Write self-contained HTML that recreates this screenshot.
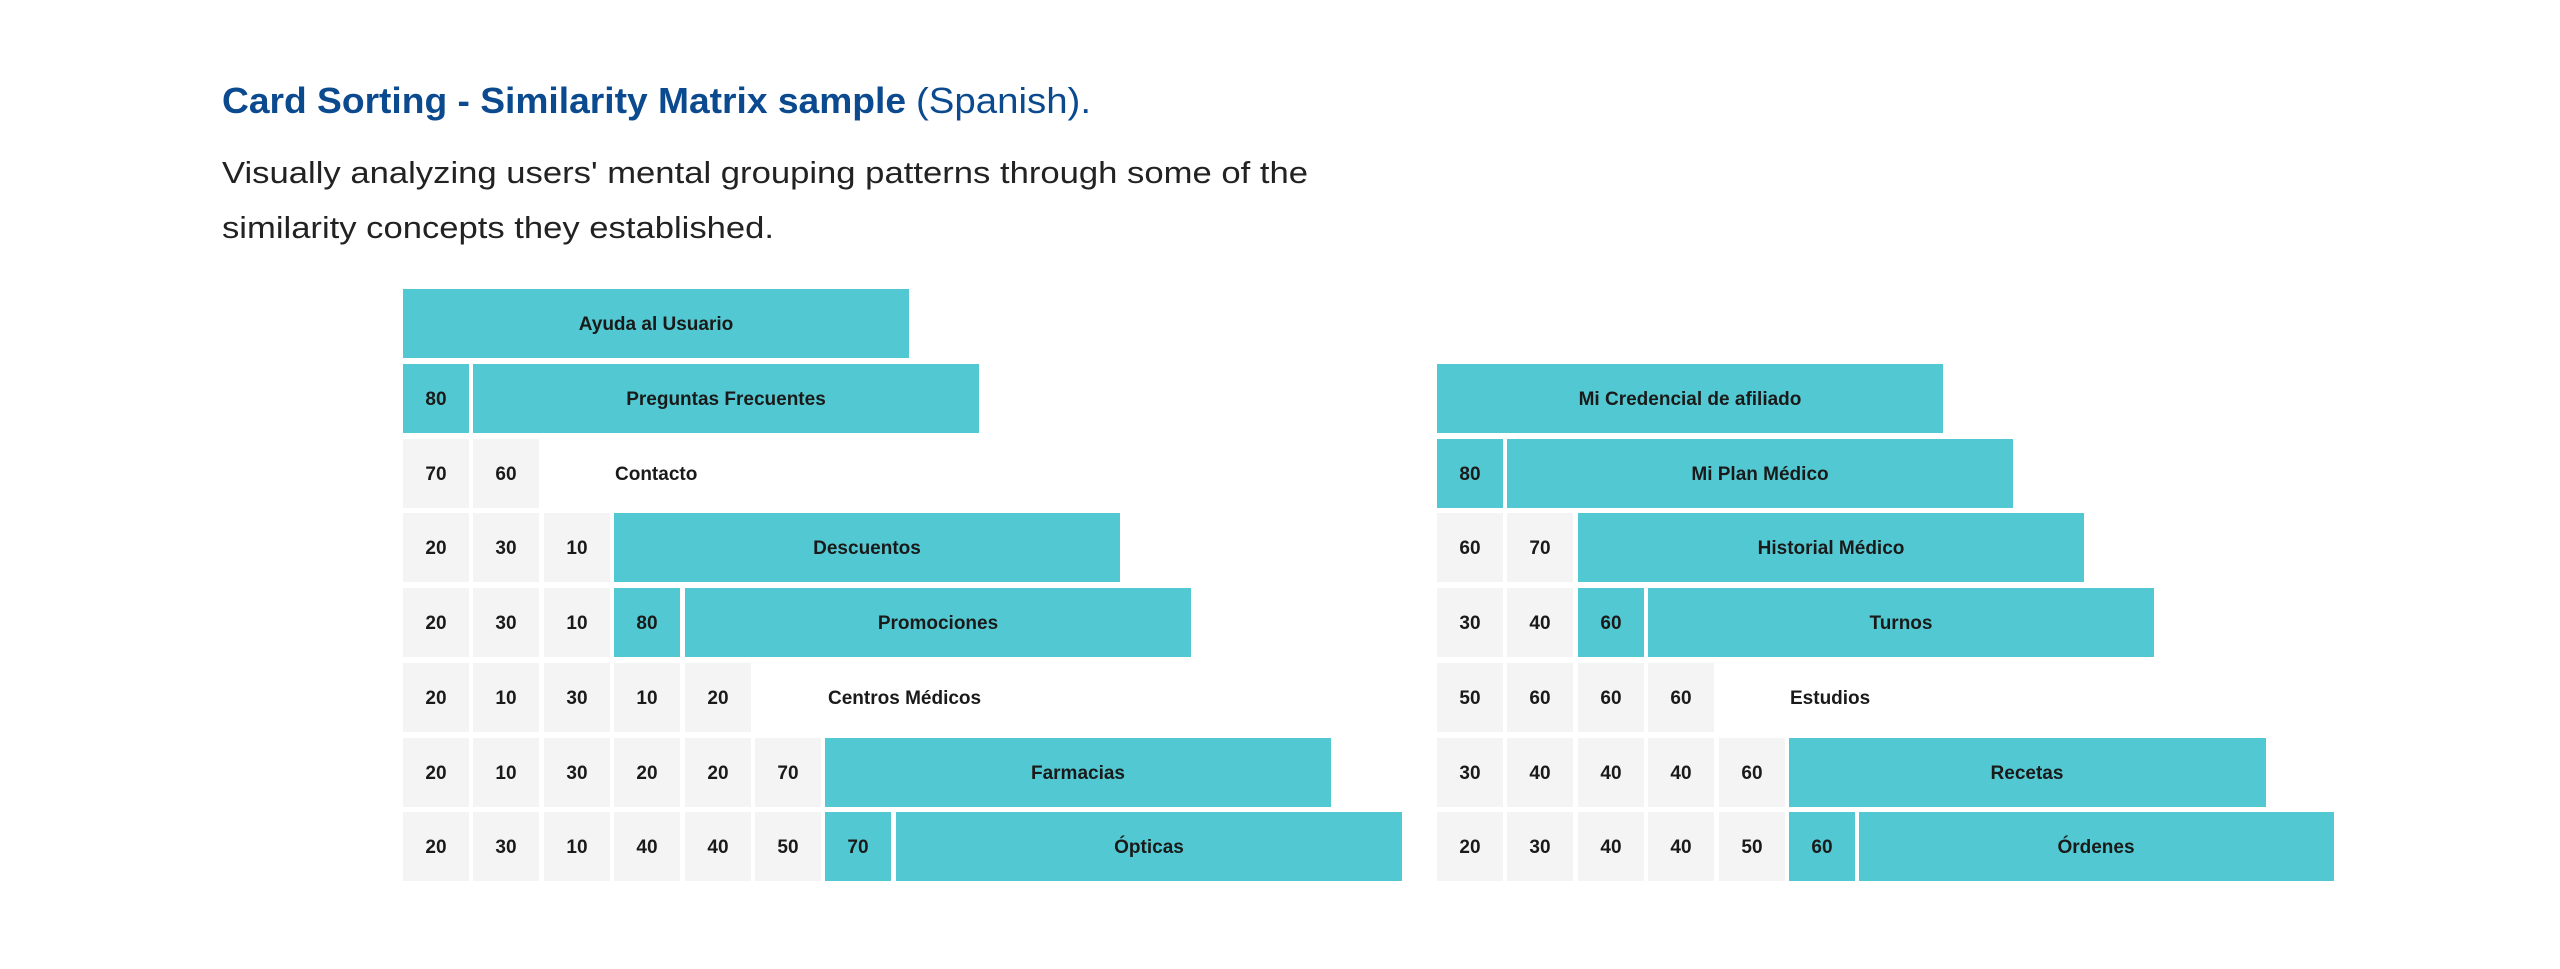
<!DOCTYPE html>
<html><head><meta charset="utf-8"><style>
html,body{margin:0;padding:0;background:#fff;}
svg{display:block;}
</style></head><body>
<svg width="2560" height="969" viewBox="0 0 2560 969" xmlns="http://www.w3.org/2000/svg" font-family="'Liberation Sans', sans-serif">
<rect width="2560" height="969" fill="#fff"/>
<text x="222" y="113" font-size="36" fill="#0B4A8F"><tspan font-weight="bold" textLength="684" lengthAdjust="spacingAndGlyphs">Card Sorting - Similarity Matrix sample</tspan><tspan dx="10" textLength="175" lengthAdjust="spacingAndGlyphs">(Spanish).</tspan></text>
<text x="222" y="183" font-size="31" fill="#222" textLength="1086" lengthAdjust="spacingAndGlyphs">Visually analyzing users' mental grouping patterns through some of the</text>
<text x="222" y="238" font-size="31" fill="#222" textLength="552" lengthAdjust="spacingAndGlyphs">similarity concepts they established.</text>

<g fill="#52C9D2">
<rect x="403" y="289" width="506" height="69"/>
<rect x="403" y="364" width="66" height="69"/><rect x="473" y="364" width="506" height="69"/>
<rect x="614" y="513" width="506" height="69"/>
<rect x="614" y="588" width="66" height="69"/><rect x="685" y="588" width="506" height="69"/>
<rect x="825" y="738" width="506" height="69"/>
<rect x="825" y="812" width="66" height="69"/><rect x="896" y="812" width="506" height="69"/>
<rect x="1437" y="364" width="506" height="69"/>
<rect x="1437" y="439" width="66" height="69"/><rect x="1507" y="439" width="506" height="69"/>
<rect x="1578" y="513" width="506" height="69"/>
<rect x="1578" y="588" width="66" height="69"/><rect x="1648" y="588" width="506" height="69"/>
<rect x="1789" y="738" width="477" height="69"/>
<rect x="1789" y="812" width="66" height="69"/><rect x="1859" y="812" width="475" height="69"/>
</g>
<g fill="#F4F4F4">
<rect x="403" y="439" width="66" height="69"/><rect x="473" y="439" width="66" height="69"/>
<rect x="403" y="513" width="66" height="69"/><rect x="473" y="513" width="66" height="69"/><rect x="544" y="513" width="66" height="69"/>
<rect x="403" y="588" width="66" height="69"/><rect x="473" y="588" width="66" height="69"/><rect x="544" y="588" width="66" height="69"/>
<rect x="403" y="663" width="66" height="69"/><rect x="473" y="663" width="66" height="69"/><rect x="544" y="663" width="66" height="69"/><rect x="614" y="663" width="66" height="69"/><rect x="685" y="663" width="66" height="69"/>
<rect x="403" y="738" width="66" height="69"/><rect x="473" y="738" width="66" height="69"/><rect x="544" y="738" width="66" height="69"/><rect x="614" y="738" width="66" height="69"/><rect x="685" y="738" width="66" height="69"/><rect x="755" y="738" width="66" height="69"/>
<rect x="403" y="812" width="66" height="69"/><rect x="473" y="812" width="66" height="69"/><rect x="544" y="812" width="66" height="69"/><rect x="614" y="812" width="66" height="69"/><rect x="685" y="812" width="66" height="69"/><rect x="755" y="812" width="66" height="69"/>
<rect x="1437" y="513" width="66" height="69"/><rect x="1507" y="513" width="66" height="69"/>
<rect x="1437" y="588" width="66" height="69"/><rect x="1507" y="588" width="66" height="69"/>
<rect x="1437" y="663" width="66" height="69"/><rect x="1507" y="663" width="66" height="69"/><rect x="1578" y="663" width="66" height="69"/><rect x="1648" y="663" width="66" height="69"/>
<rect x="1437" y="738" width="66" height="69"/><rect x="1507" y="738" width="66" height="69"/><rect x="1578" y="738" width="66" height="69"/><rect x="1648" y="738" width="66" height="69"/><rect x="1719" y="738" width="66" height="69"/>
<rect x="1437" y="812" width="66" height="69"/><rect x="1507" y="812" width="66" height="69"/><rect x="1578" y="812" width="66" height="69"/><rect x="1648" y="812" width="66" height="69"/><rect x="1719" y="812" width="66" height="69"/>
</g>

<g font-size="19" font-weight="bold" fill="#1a1a1a" text-anchor="middle">
<text x="656" y="330">Ayuda al Usuario</text>
<text x="436" y="405">80</text><text x="726" y="405">Preguntas Frecuentes</text>
<text x="436" y="480">70</text><text x="506" y="480">60</text>
<text x="436" y="554">20</text><text x="506" y="554">30</text><text x="577" y="554">10</text><text x="867" y="554">Descuentos</text>
<text x="436" y="629">20</text><text x="506" y="629">30</text><text x="577" y="629">10</text><text x="647" y="629">80</text><text x="938" y="629">Promociones</text>
<text x="436" y="704">20</text><text x="506" y="704">10</text><text x="577" y="704">30</text><text x="647" y="704">10</text><text x="718" y="704">20</text>
<text x="436" y="779">20</text><text x="506" y="779">10</text><text x="577" y="779">30</text><text x="647" y="779">20</text><text x="718" y="779">20</text><text x="788" y="779">70</text><text x="1078" y="779">Farmacias</text>
<text x="436" y="853">20</text><text x="506" y="853">30</text><text x="577" y="853">10</text><text x="647" y="853">40</text><text x="718" y="853">40</text><text x="788" y="853">50</text><text x="858" y="853">70</text><text x="1149" y="853">Ópticas</text>

<text x="1690" y="405">Mi Credencial de afiliado</text>
<text x="1470" y="480">80</text><text x="1760" y="480">Mi Plan Médico</text>
<text x="1470" y="554">60</text><text x="1540" y="554">70</text><text x="1831" y="554">Historial Médico</text>
<text x="1470" y="629">30</text><text x="1540" y="629">40</text><text x="1611" y="629">60</text><text x="1901" y="629">Turnos</text>
<text x="1470" y="704">50</text><text x="1540" y="704">60</text><text x="1611" y="704">60</text><text x="1681" y="704">60</text>
<text x="1470" y="779">30</text><text x="1540" y="779">40</text><text x="1611" y="779">40</text><text x="1681" y="779">40</text><text x="1752" y="779">60</text><text x="2027" y="779">Recetas</text>
<text x="1470" y="853">20</text><text x="1540" y="853">30</text><text x="1611" y="853">40</text><text x="1681" y="853">40</text><text x="1752" y="853">50</text><text x="1822" y="853">60</text><text x="2096" y="853">Órdenes</text>
</g>
<g font-size="19" font-weight="bold" fill="#1a1a1a">
<text x="615" y="480">Contacto</text>
<text x="828" y="704">Centros Médicos</text>
<text x="1790" y="704">Estudios</text>
</g>
</svg>
</body></html>
